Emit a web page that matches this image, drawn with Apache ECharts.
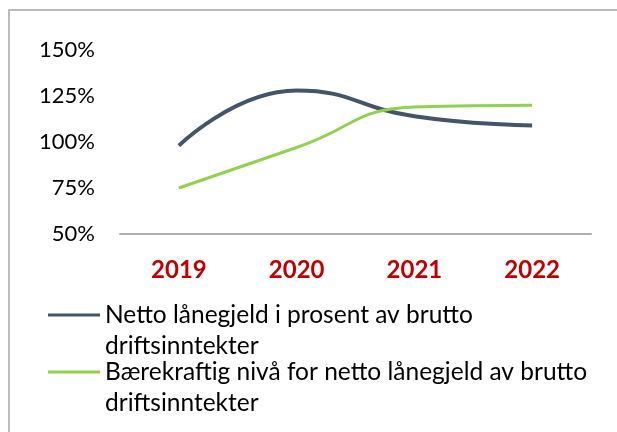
<!DOCTYPE html>
<html>
<head>
<meta charset="utf-8">
<script src="https://cdn.jsdelivr.net/npm/echarts@6/dist/echarts.min.js"></script>
<style>
html,body{margin:0;padding:0;background:#fff;}
#chart{width:617px;height:432px;}
</style>
</head>
<body>
<div id="chart"></div>
<script>
const categories = ['2019', '2020', '2021', '2022'];
const yTicks = [50, 75, 100, 125, 150];
const seriesNames = ['Netto lånegjeld i prosent av brutto driftsinntekter', 'Bærekraftig nivå for netto lånegjeld av brutto driftsinntekter'];
const legendLabels = ['Netto lånegjeld i prosent av brutto\ndriftsinntekter', 'Bærekraftig nivå for netto lånegjeld av brutto\ndriftsinntekter'];
const nettoLanegjeld = [98, 128, 114, 109];
const baerekraftigNiva = [75, 97, 119, 120];

const FONT = 'Lato';
const LH = 31;
const chart = echarts.init(document.getElementById('chart'), null, {renderer: 'canvas'});

function legendFor(i, top) {
  return {
    show: true,
    data: [seriesNames[i]],
    left: 48,
    top: top,
    padding: 0,
    icon: 'rect',
    itemWidth: 52,
    itemHeight: 3,
    formatter: () => ' \n' + legendLabels[i],
    textStyle: {
      fontFamily: FONT,
      fontSize: 24.5,
      color: '#000',
      lineHeight: LH
    }
  };
}

chart.setOption({
  animation: false,
  backgroundColor: '#fff',
  graphic: [{
    type: 'rect',
    shape: {x: 9, y: 10, width: 800, height: 600},
    style: {fill: 'none', stroke: '#a6a6a6', lineWidth: 1.5},
    silent: true
  }],
  grid: {left: 120, right: 26, top: 50, bottom: 198},
  legend: [legendFor(0, 315 - 1.5 * LH), legendFor(1, 372 - 1.5 * LH)],
  xAxis: {
    type: 'category',
    data: categories,
    boundaryGap: true,
    axisLine: {lineStyle: {color: '#b0b0b0', width: 2}},
    axisTick: {show: false},
    axisLabel: {fontFamily: FONT, fontSize: 24, fontWeight: 'bold', color: '#c00000', margin: 24}
  },
  yAxis: {
    type: 'value',
    min: yTicks[0],
    max: yTicks[yTicks.length - 1],
    interval: 25,
    axisLine: {show: false},
    axisTick: {show: false},
    splitLine: {show: false},
    axisLabel: {fontFamily: FONT, fontSize: 22, color: '#000', margin: 25, formatter: v => v + '%'}
  },
  series: [
    {
      name: seriesNames[0],
      type: 'line',
      data: nettoLanegjeld,
      smooth: 0.5,
      showSymbol: false,
      color: '#44546a',
      lineStyle: {color: '#44546a', width: 4}
    },
    {
      name: seriesNames[1],
      type: 'line',
      data: baerekraftigNiva,
      smooth: 0.5,
      showSymbol: false,
      color: '#92d050',
      lineStyle: {color: '#92d050', width: 3}
    }
  ]
});
</script>
</body>
</html>
